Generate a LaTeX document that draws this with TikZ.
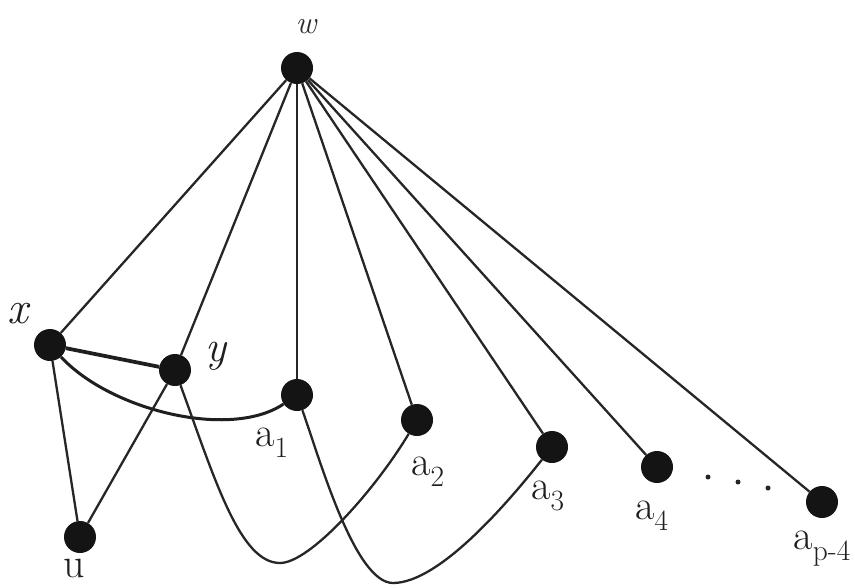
\documentclass[tikz,border=0pt]{standalone}
\usepackage{fontspec}
\setmainfont{Latin Modern Roman}
\begin{document}
\begin{tikzpicture}[x=1pt,y=-1pt,
  vdot/.style={circle,fill=black!92,inner sep=0pt,minimum size=32pt},
  sdot/.style={circle,fill=black!85,inner sep=0pt,minimum size=5pt},
  edge/.style={draw=black!85,line width=2.3pt},
  thickedge/.style={draw=black!88,line width=3.8pt},
  midedge/.style={draw=black!88,line width=3pt},
  lab/.style={font=\fontsize{42}{48}\selectfont,text=black!88,inner sep=0pt},
  wlab/.style={font=\fontsize{32}{36}\selectfont\itshape,text=black!82,inner sep=0pt}]
\useasboundingbox[fill=white] (0,0) rectangle (855,587);
% vertices
\node[vdot] (w) at (297,68) {};
\node[vdot] (x) at (50,345) {};
\node[vdot] (y) at (175,370) {};
\node[vdot] (a1) at (297,395) {};
\node[vdot] (a2) at (417,420) {};
\node[vdot] (a3) at (552,447) {};
\node[vdot] (a4) at (657,467) {};
\node[vdot] (ap) at (822,502) {};
\node[vdot] (u) at (80,537) {};
\node[sdot] (d1) at (708,477) {};
\node[sdot] (d2) at (738,482) {};
\node[sdot] (d3) at (768,488) {};
% labels
\node[wlab] (lw) at (306,27) {w};
\node[lab,font=\fontsize{46}{52}\selectfont\itshape] (lx) at (18,314) {x};
\node[lab,font=\fontsize{44}{52}\selectfont\itshape] (ly) at (216,356) {y};
\node[lab] (la1) at (272,443) {a\textsubscript{1}};
\node[lab] (la2) at (428,472) {a\textsubscript{2}};
\node[lab] (la3) at (548,496) {a\textsubscript{3}};
\node[lab] (la4) at (652,516) {a\textsubscript{4}};
\node[lab,anchor=east] (lap) at (851,549) {a\textsubscript{p-4}};
\node[lab] (lu) at (74,568) {u};
% edges from w
\foreach \t in {x,y,a1,a2,a3,a4,ap} \draw[edge] (w) -- (\t);
% other edges
\draw[thickedge] (x) -- (y);
\draw[midedge] (x) .. controls (110,410) and (230,440) .. (a1);
\draw[edge] (x) -- (u);
\draw[edge] (y) -- (u);
\draw[edge] (y) .. controls (215,480) and (240,563) .. (280,563)
             .. controls (310,563) and (375,490) .. (a2);
\draw[edge] (a1) .. controls (320,460) and (355,583) .. (393,583)
             .. controls (440,583) and (510,500) .. (a3);
\end{tikzpicture}
\end{document}
